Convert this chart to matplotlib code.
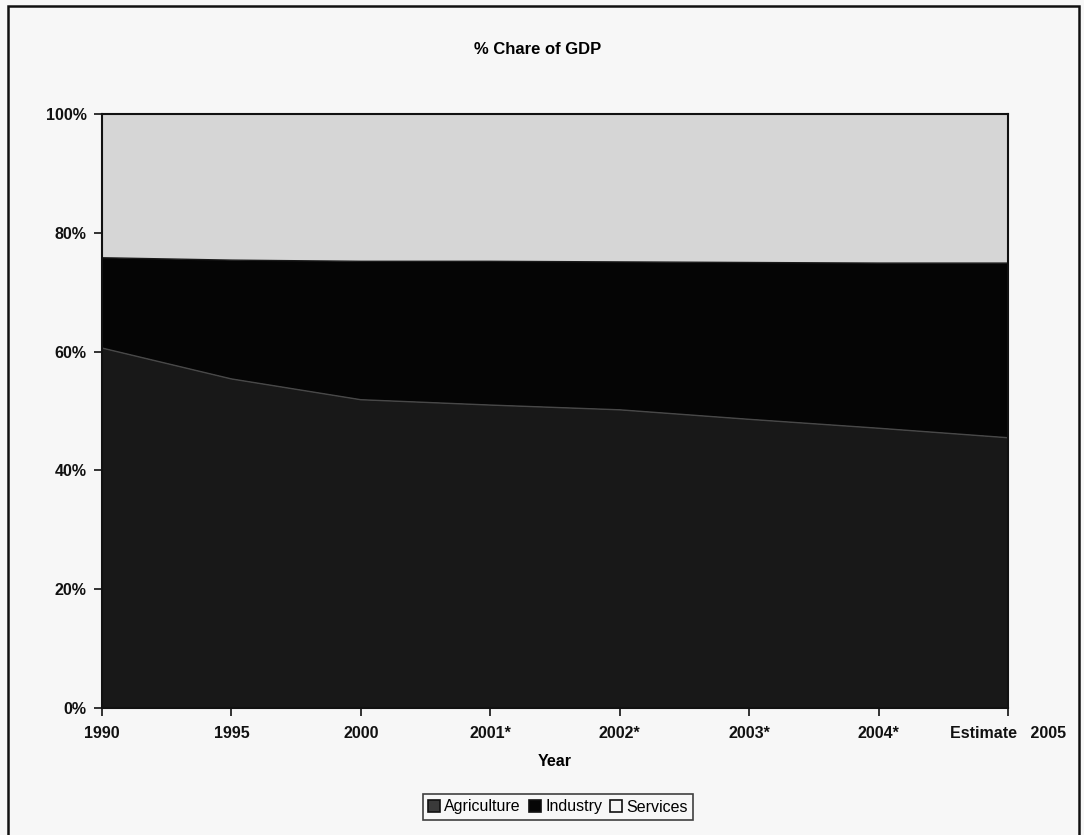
import matplotlib
matplotlib.use("Agg")
import matplotlib.pyplot as plt
from matplotlib.patches import Rectangle, Patch
from matplotlib.ticker import PercentFormatter

# Share of GDP by sector (percent)
years = ["1990", "1995", "2000", "2001*", "2002*", "2003*", "2004*", "Estimate   2005"]
agriculture = [60.6, 55.4, 51.9, 51.0, 50.2, 48.6, 47.1, 45.5]
industry = [15.2, 20.0, 23.3, 24.2, 24.9, 26.4, 27.8, 29.4]
services = [24.2, 24.6, 24.8, 24.8, 24.9, 25.0, 25.1, 25.1]

plt.rcParams["font.family"] = ["Liberation Sans", "DejaVu Sans"]
plt.rcParams["font.weight"] = "bold"

fig = plt.figure(figsize=(10.84, 8.35), dpi=100, facecolor="#f7f7f7")
ax = fig.add_axes([102 / 1084, 1 - 708 / 835, 906 / 1084, 594 / 835])

x = list(range(len(years)))
totals = [a + i + s for a, i, s in zip(agriculture, industry, services)]
agri_pct = [100 * a / t for a, t in zip(agriculture, totals)]
ind_pct = [100 * i / t for i, t in zip(industry, totals)]
serv_pct = [100 * s / t for s, t in zip(services, totals)]

colors = ["#181818", "#050505", "#d6d6d6"]
ax.stackplot(x, agri_pct, ind_pct, serv_pct, colors=colors, linewidth=0)
# faint separating edges between the bands
top_ind = [a + b for a, b in zip(agri_pct, ind_pct)]
ax.plot(x, agri_pct, color="#484848", linewidth=1.0)
ax.plot(x, top_ind, color="#1a1a1a", linewidth=1.0)

ax.set_xlim(0, len(years) - 1)
ax.set_ylim(0, 100)
ax.set_xticks(x)
ax.set_xticklabels(years)
ax.set_yticks([0, 20, 40, 60, 80, 100])
ax.yaxis.set_major_formatter(PercentFormatter(decimals=0))
ax.tick_params(axis="both", labelsize=11.5, length=6, width=1.2,
               direction="out", colors="#111111", pad=5)
ax.tick_params(axis="x", pad=7)
for lbl in ax.get_xticklabels() + ax.get_yticklabels():
    lbl.set_fontweight("bold")
for sp in ax.spines.values():
    sp.set_linewidth(1.5)
    sp.set_color("#111111")

ax.set_xlabel("Year", fontsize=11.5, fontweight="bold", labelpad=9)
fig.text(538 / 1084, 1 - 50 / 835, "% Chare of GDP", ha="center", va="center",
         fontsize=12, fontweight="bold")

handles = [Patch(facecolor="#3a3a3a", edgecolor="#111111", linewidth=1.2, label="Agriculture"),
           Patch(facecolor="#060606", edgecolor="#111111", linewidth=1.2, label="Industry"),
           Patch(facecolor="#f7f7f7", edgecolor="#111111", linewidth=1.2, label="Services")]
leg = fig.legend(handles=handles, loc="center", ncol=3,
                 bbox_to_anchor=(558 / 1084, 1 - 807 / 835),
                 fontsize=11.5, frameon=True, fancybox=False,
                 handlelength=0.75, handleheight=0.75, handletextpad=0.25,
                 columnspacing=0.5, borderpad=0.35, borderaxespad=0)
leg.get_frame().set_edgecolor("#111111")
leg.get_frame().set_linewidth(1.2)
leg.get_frame().set_facecolor("#f7f7f7")
for t in leg.get_texts():
    t.set_fontweight("normal")

# outer frame around the whole chart
fig.patches.append(Rectangle((8 / 1084, -0.01), (1079 - 8) / 1084, 1 - 6 / 835 + 0.01,
                             transform=fig.transFigure, fill=False,
                             edgecolor="#111111", linewidth=1.8))

fig.savefig("out.png", dpi=100, facecolor=fig.get_facecolor())
